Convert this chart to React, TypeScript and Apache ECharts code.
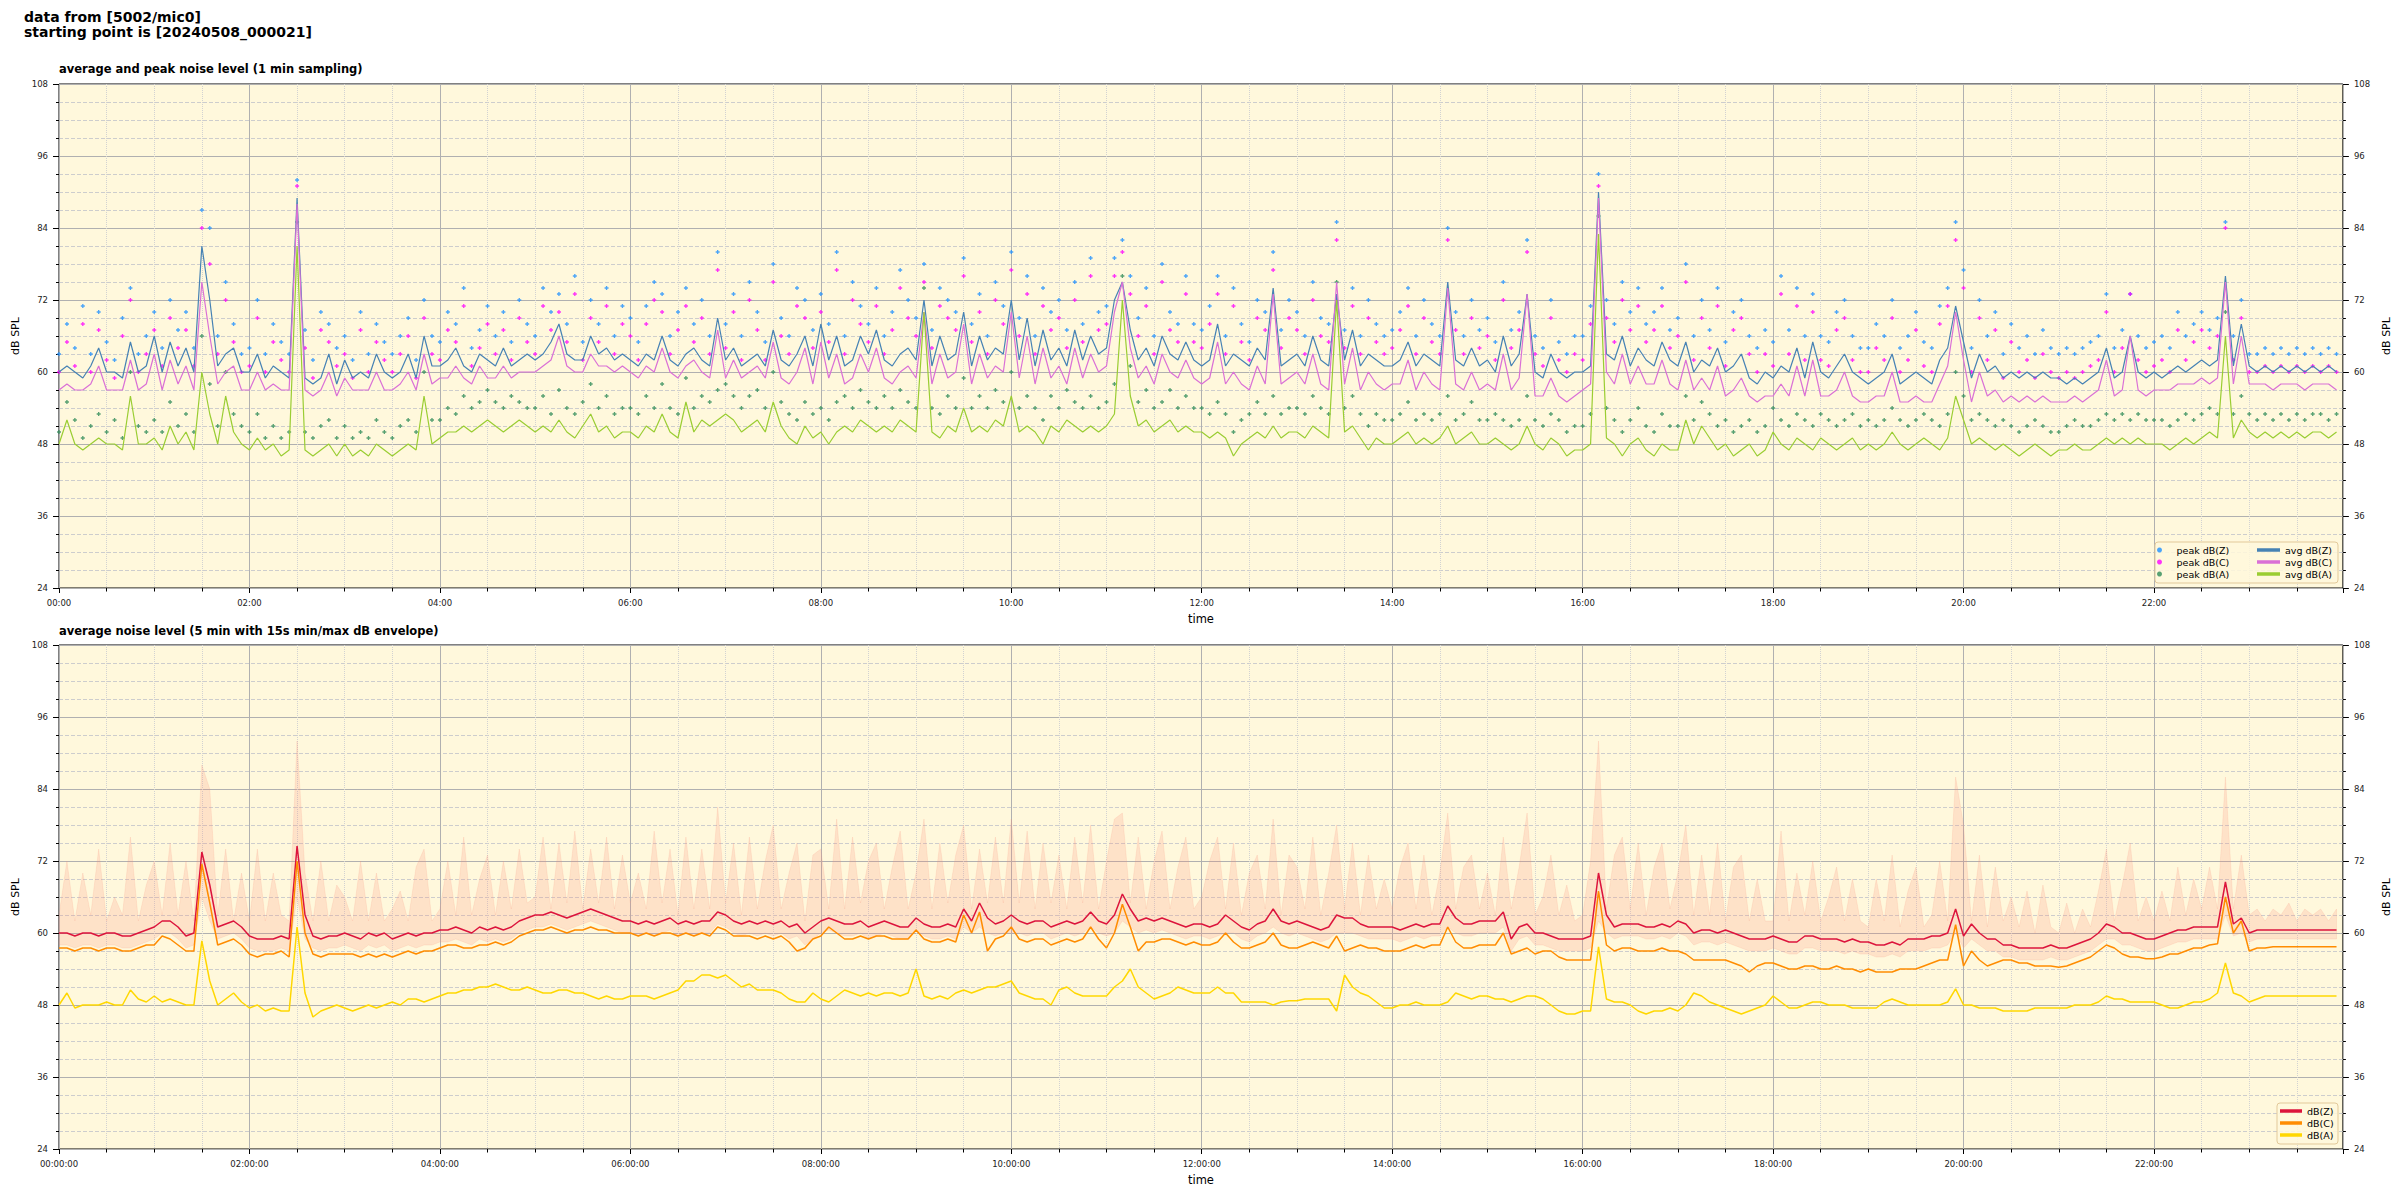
import React, { useEffect, useRef } from "react";
import * as echarts from "echarts";

// ---- time grid: one value every 5 minutes, 00:00 .. 23:55 (minutes) ----
const STEP_MIN = 5;

// ---- top panel: average levels (dB SPL) ----
const avgZ = [
  60,61,60,59,61,64,60,60,59,65,60,61,
  66,60,65,61,64,60,81,72,61,63,64,60,
  60,63,59,61,60,59,89,59,58,59,63,58,
  62,59,60,59,63,60,59,60,63,59,66,61,
  61,62,64,61,60,63,62,61,64,61,62,63,
  62,63,65,68,63,62,62,66,63,64,62,63,
  62,61,63,62,66,62,61,63,64,62,61,69,
  62,64,61,62,63,61,67,62,61,63,66,61,
  68,62,66,61,62,66,63,67,62,61,63,64,
  62,72,61,66,62,63,70,61,66,62,64,63,
  72,62,69,61,67,62,64,61,67,62,66,63,
  64,72,75,67,62,64,61,66,63,62,65,62,
  61,62,68,61,63,62,61,64,62,74,61,62,
  63,61,66,62,61,73,62,67,61,63,62,61,
  61,62,65,61,63,62,61,75,62,61,64,61,
  62,60,66,61,63,73,60,59,63,60,59,60,
  60,61,90,63,62,66,61,64,62,61,65,62,
  61,65,60,62,61,64,60,61,63,59,58,60,
  59,61,60,64,59,65,60,59,61,63,60,59,
  58,59,60,63,58,59,60,59,58,62,64,71,
  65,59,63,60,61,59,60,59,60,59,60,59,
  59,58,59,58,59,60,64,59,60,66,60,59,
  60,59,60,61,60,61,62,61,62,76,61,68,
  61,60,61,60,61,60,61,60,61,60,61,60,
];
const avgC = [
  57,58,57,57,58,61,57,57,57,62,57,58,
  63,57,62,58,61,57,75,66,58,60,61,57,
  57,60,57,58,57,57,88,57,56,57,60,56,
  59,57,57,57,60,57,57,58,60,57,63,58,
  59,59,61,59,58,61,59,59,61,59,60,60,
  60,61,62,66,61,60,60,63,61,61,60,61,
  60,59,61,60,64,60,59,61,62,60,59,67,
  59,62,59,60,61,59,65,59,58,60,64,58,
  65,59,63,58,59,63,60,64,59,58,60,61,
  59,70,58,63,59,60,68,58,63,59,61,60,
  70,59,66,58,64,59,61,58,64,59,63,60,
  61,70,75,64,59,61,58,63,60,59,62,59,
  58,59,65,58,60,58,57,61,58,73,58,59,
  60,58,63,58,57,75,58,64,57,60,58,57,
  58,58,62,57,60,58,57,74,58,57,60,57,
  58,57,63,57,59,73,56,56,59,56,55,56,
  57,58,89,60,58,63,58,61,58,58,62,58,
  57,62,57,59,57,61,56,57,59,56,55,56,
  56,58,56,61,56,62,56,56,57,60,56,55,
  55,56,56,60,55,55,56,55,55,58,61,70,
  62,55,60,56,57,55,56,55,56,55,56,55,
  55,55,56,55,56,57,62,56,57,66,57,56,
  57,57,57,58,58,58,59,58,59,75,58,66,
  58,58,58,57,58,58,58,57,58,58,58,57,
];
const avgA = [
  48,52,48,47,48,49,48,48,47,56,48,48,
  49,47,51,48,50,47,60,53,48,56,50,48,
  47,49,47,48,46,47,81,47,46,47,48,46,
  48,46,47,46,48,47,46,47,48,47,56,48,
  49,50,50,51,50,51,52,51,50,51,52,51,
  50,51,50,52,50,49,51,53,50,51,49,50,
  50,49,51,50,53,50,49,55,50,52,51,52,
  53,52,50,51,52,50,55,51,49,48,51,49,
  50,48,50,51,50,52,51,50,51,50,52,51,
  50,70,50,49,51,50,54,50,51,50,52,51,
  56,50,51,50,48,51,50,52,51,50,51,50,
  51,53,72,56,51,52,50,51,52,50,51,50,
  50,49,50,49,46,48,49,50,49,51,49,50,
  50,49,51,50,49,72,50,51,49,47,49,48,
  48,49,50,48,49,48,49,51,48,49,50,48,
  48,49,48,47,48,51,48,47,49,48,46,47,
  47,48,83,49,48,46,48,49,47,46,48,47,
  47,52,48,51,49,47,48,46,47,48,46,47,
  50,48,47,49,48,47,49,48,47,48,49,47,
  48,47,48,50,48,47,48,49,48,47,49,56,
  52,48,49,48,47,48,47,46,47,48,47,46,
  47,47,48,47,47,48,49,48,49,48,49,48,
  48,48,47,48,49,48,49,50,49,66,49,52,
  50,49,50,49,50,49,50,49,50,50,49,50,
];

// ---- top panel: peak levels (dB SPL) ----
const peakZ = [
  63,68,64,71,63,70,65,62,69,74,63,66,
  70,64,72,67,70,64,87,84,66,75,68,63,
  64,72,63,68,65,63,92,67,62,70,68,64,
  66,62,70,63,68,65,63,66,69,62,72,66,
  65,70,68,74,64,67,71,66,70,65,72,68,
  66,74,70,73,68,76,65,72,68,74,66,71,
  69,65,71,75,73,66,70,74,68,72,66,80,
  68,73,66,75,70,65,78,69,66,74,72,67,
  73,68,80,66,75,71,68,74,66,70,77,72,
  69,78,67,74,72,70,79,68,73,66,75,71,
  80,69,76,66,74,70,72,67,75,68,79,70,
  71,79,82,76,69,74,66,78,70,68,76,68,
  67,71,76,66,74,68,65,72,70,80,67,72,
  70,66,75,69,68,85,67,74,66,72,68,66,
  67,70,74,66,72,68,66,84,70,66,72,67,
  69,65,75,67,70,82,66,64,72,65,63,66,
  66,71,93,72,68,75,70,74,68,70,74,67,
  69,78,66,72,67,74,65,70,72,66,64,67,
  65,76,67,74,66,73,66,65,70,72,66,64,
  64,68,66,72,64,66,70,65,64,71,74,85,
  77,64,72,66,70,63,68,64,66,63,67,64,
  63,64,63,64,65,66,73,64,67,73,66,64,
  65,66,64,70,66,68,70,67,69,85,66,72,
  63,63,64,63,64,63,64,63,64,63,64,63,
];
const peakC = [
  60,65,61,68,60,67,62,59,66,72,60,63,
  67,61,69,64,67,61,84,78,63,72,65,60,
  61,69,60,65,62,60,91,64,59,67,65,61,
  63,59,67,60,65,62,60,63,66,59,69,63,
  62,67,65,71,61,64,68,63,67,62,69,65,
  63,71,67,70,65,73,62,69,65,71,63,68,
  66,62,68,72,70,63,67,71,65,69,63,77,
  64,70,62,72,67,62,75,66,63,71,69,64,
  70,65,77,63,72,68,65,71,63,67,74,69,
  66,75,64,71,69,67,76,65,70,63,72,68,
  77,66,73,63,71,67,69,64,72,65,76,67,
  68,76,80,73,66,71,63,75,67,65,73,65,
  64,68,73,63,71,65,62,69,67,77,64,69,
  67,63,72,66,65,82,64,71,63,69,65,63,
  64,67,71,63,69,65,63,82,67,63,69,64,
  66,62,72,64,67,80,63,61,69,62,60,63,
  62,68,91,69,65,72,67,71,65,67,71,64,
  66,75,62,69,64,71,61,67,69,63,60,63,
  61,73,63,71,62,70,62,61,67,69,62,60,
  60,64,62,69,60,62,67,61,60,68,71,82,
  74,60,69,62,67,59,65,60,62,59,63,60,
  59,60,59,60,61,62,70,60,64,73,62,60,
  61,62,60,67,62,65,67,64,66,84,62,69,
  60,60,61,60,61,60,61,60,61,60,61,60,
];
const peakA = [
  50,55,52,49,51,53,50,52,49,60,51,50,
  52,50,55,51,53,50,66,58,51,60,53,51,
  50,53,49,51,49,50,85,50,49,51,52,49,
  51,49,50,49,52,50,49,51,52,50,60,52,
  52,54,53,56,54,55,57,55,54,56,55,54,
  54,56,53,57,54,53,55,58,54,56,53,54,
  54,53,56,54,58,54,53,59,54,56,55,57,
  58,56,54,56,57,54,60,55,53,52,55,53,
  54,52,55,56,54,57,55,54,56,54,57,55,
  54,74,54,53,56,54,59,54,56,54,57,55,
  60,54,56,54,52,56,54,57,55,54,56,54,
  55,58,76,61,55,57,54,55,57,54,56,54,
  54,53,55,53,50,52,53,55,53,56,53,54,
  54,53,56,54,53,75,54,56,53,51,53,52,
  52,53,55,52,53,52,53,56,52,53,55,52,
  52,53,52,51,52,56,52,51,53,52,50,51,
  51,53,86,54,52,50,52,54,51,50,53,51,
  51,56,52,55,53,51,52,50,51,52,50,51,
  54,52,51,53,52,51,53,52,51,52,53,51,
  52,51,52,54,52,51,52,53,52,51,53,60,
  56,52,53,52,51,52,51,50,51,52,51,50,
  50,51,52,51,51,52,53,52,53,52,53,52,
  52,52,51,52,53,52,53,54,53,70,53,56,
  53,52,53,52,53,52,53,52,53,53,52,53,
];

// ---- bottom panel: 5-min averages (dB SPL) ----
const dbZ = [
  60,60,59.5,60,60,59.5,60,60,59.5,59.5,60,60.5,
  61,62,62,61,59.5,60,73.5,68,61,61.5,62,61,
  59.5,59,59,59,59.5,59,74.5,63,59.5,59,59.5,59.5,
  60,59.5,59,60,59.5,60,59,59.5,60,59.5,60,60,
  60.5,60.5,61,60.5,60,61,60.5,61,60.5,61,62,62.5,
  63,63,63.5,63,62.5,63,63.5,64,63.5,63,62.5,62,
  62,61.5,62,61.5,62,62.5,61.5,62,61.5,62,62,63.5,
  63,62,61.5,62,61.5,62,61.5,62,61,61.5,60,61,
  62,62.5,62,61.5,61.5,62,61,61.5,62,61.5,61,61,
  62.5,61.5,61,61,61.5,61,64,62,65,62.5,61.5,62,
  63,62,61.5,62,62,61,61.5,62,61.5,62,63.5,62,
  61.5,63,66.5,64,62,62.5,62,62.5,62,61.5,61,61.5,
  61.5,61,61.5,63,62,61,60.5,61.5,62,64,62,61.5,
  62,61.5,61,60.5,61,63,62.5,62.5,61.5,61,61,61,
  61,60.5,61,61.5,61,61.5,61.5,64.5,62.5,61.5,61.5,62,
  62,62,63.5,59,61,61.5,60,60,59.5,59,59,59,
  59,59.5,70,63,61,61.5,61.5,61.5,61,61,61.5,61,
  62,61.5,60,60.5,60.5,60,60.5,60,59.5,59,59,59,
  59.5,59,58.5,58.5,59.5,59.5,59,59,59,58.5,59,58.5,
  58.5,58,58,58.5,58,59,59,59,59.5,59.5,60,64,
  59.5,61.5,60,59,59,58,58,57.5,57.5,57.5,57.5,58,
  57.5,57.5,58,58.5,59,60,61.5,61,60,60,59.5,59,
  59,59.5,60,60.5,60.5,61,61,61,61,68.5,61.5,62.5,
  60,60.5,60.5,60.5,60.5,60.5,60.5,60.5,60.5,60.5,60.5,60.5,
];
const dbC = [
  57.5,57.5,57,57.5,57.5,57,57.5,57.5,57,57,57.5,58,
  58,59.5,59,58,57,57,71.5,65,58,58.5,59,58,
  56.5,56,56.5,56.5,57,56,72,60,56.5,56,56.5,56.5,
  56.5,56.5,56,56.5,56,56.5,56,56.5,57,56.5,57,57,
  57.5,58,58,57.5,57.5,58,58,58.5,58,58.5,59.5,60,
  60.5,60.5,61,60.5,60,60.5,60.5,61,60.5,60.5,60,60,
  60,59.5,60,59.5,60,60,59.5,60,59.5,60,59.5,61,
  60.5,59.5,59.5,59.5,59,59.5,59,59.5,58.5,57,57.5,59,
  59.5,61,60,59,59,59.5,59,59.5,59.5,59,59,59,
  60.5,59,58.5,58.5,59,58.5,63,60,63.5,57,59,59.5,
  61,59,58.5,59,59,58,58.5,59,58.5,59,61,59,
  57.5,60,64.8,61,57,58.5,58.5,59,59,58.5,58,58.5,
  58,58,58.5,60,58.5,57.5,57.5,58,58.5,60,58,57.5,
  57.5,58,58.5,58,57.5,59.5,57,57.5,58,57.5,57.5,57,
  57,57,57.5,58,57.5,58,58,61,58.5,57.5,57.5,58,
  58,58,60,56.5,57,57.5,56.5,57,57,56,55.5,55.5,
  55.5,55.5,67,58,57,57.5,57.5,57,57,57,57.5,57,
  57,56.5,55.5,55.5,55.5,55.5,55.5,55,54.5,53.5,54.5,55,
  55,54.5,54,54,54.5,54.5,54,54,54.5,54,54,53.5,
  54,53.5,53.5,53.5,54,54,54,54.5,55,55.5,55.5,61.4,
  54.5,57,55.5,54.5,55,55.5,55.5,55,55,54.5,54.5,54.5,
  54.3,54.5,55,55.5,56,57,58,57.5,56.5,56,56,55.7,
  55.7,56,56.5,56.5,57,57.5,57.5,58,58.2,66,60,62,
  57,57.5,57.5,57.7,57.7,57.7,57.7,57.7,57.7,57.7,57.7,57.7,
];
const dbA = [
  48,50,47.5,48,48,48,48.5,48,48,50.5,49,48.5,
  49.5,48.5,49,48.5,48,48,58.7,52,48,49,50,48.5,
  47.5,48,47,47.5,47,47,61,50,46,47,47.5,48,
  47.5,47,47.5,48,47.5,48,48.5,48,49,49,48.5,49,
  49.5,50,50,50.5,50.5,51,51,51.5,51,50.5,50.5,51,
  50.5,50,50,50.5,50.5,50,50,49.5,49,49.5,49,49,
  49.5,49.5,49.5,49,49.5,50,50.5,52,52,53,53,52.5,
  53,52,51,51.5,50.5,50.5,50.5,50,49,48.5,48.5,50,
  49,48.5,49.5,50.5,50,49.5,50,49.5,50,50,49.5,50,
  54,49.5,49,49.5,49,50,50.5,50,50.5,51,51,51.5,
  52,50,49.5,49,49,48,50.5,51,50,49.5,49.5,49.5,
  49.5,51,52,54,51,50,49,49.5,50,51,50.5,50,
  50,50,51,50,50,48.5,48.5,48.5,48.5,48,48.5,48.7,
  48.7,49,49,49,49,47,53,51,50,49.5,48.5,47.5,
  47.5,48,48,48.5,48,48,48,48.5,50,49.5,49,49.5,
  49.5,49,49,48.5,49,49.5,49.5,49,48,47,46.5,46.5,
  47,47,57.7,49,48.5,48.5,48,47,46.5,47,47,47.5,
  47,48,50,49.5,48.5,48,47.5,47,46.5,47,47.5,48,
  49.5,48.5,47.5,47.5,48,48.5,48.5,48,48,48,47.5,47.5,
  47.5,47.5,48.5,49,48.5,48,48,48,48,48,48.5,50.7,
  48,48,47.5,47.5,47.5,47,47,47,47,47.5,47.5,47.5,
  47.5,47.5,48,48,48,48.5,49.5,49,49,48.5,48.5,48.5,
  48.5,48,47.5,47.5,48,48.5,48.5,49,50,55,50,49.5,
  48.5,49,49.5,49.5,49.5,49.5,49.5,49.5,49.5,49.5,49.5,49.5,
];

// ---- bottom panel: 15 s min / max envelope (dB SPL) ----
const envMax = [
  63,72,62,70,63,74,62,66,63,76,62,68,
  72,63,75,63,72,62,88,84,63,74,62,70,
  62,74,62,70,63,62,92,70,62,72,62,68,
  66,62,72,62,70,62,64,67,62,71,74,62,
  64,72,63,76,63,69,73,63,72,64,74,65,
  66,76,64,75,65,77,64,74,65,76,64,73,
  65,70,64,77,65,74,63,76,64,74,64,81,
  65,75,63,76,64,72,78,64,70,75,62,73,
  74,64,79,64,76,65,72,75,64,71,77,64,
  70,79,64,75,65,73,78,64,74,65,76,65,
  79,65,77,64,75,65,73,64,76,65,78,64,
  72,79,80,65,76,64,72,77,64,71,76,64,
  66,72,76,64,75,63,70,73,64,79,63,73,
  71,64,76,63,70,78,64,75,63,73,64,69,
  64,71,75,64,73,63,70,80,64,71,73,64,
  70,63,76,64,71,80,63,66,73,63,68,62,
  63,72,92,64,73,76,64,75,63,71,75,64,
  70,78,63,73,63,75,62,71,73,62,69,62,
  62,77,62,70,63,72,62,66,71,62,69,62,
  61,69,62,73,61,67,71,61,63,72,62,86,
  78,62,73,61,71,62,66,61,67,60,68,61,
  60,65,60,64,61,67,74,62,68,75,62,66,
  62,67,62,71,63,69,64,71,64,86,64,73,
  63,64,62,64,63,65,62,64,63,64,62,64,
];
const envMin = [
  58,58,57.5,58,58,57.5,58,58,57.5,57.5,58,58.5,
  59,60,60,59,57.5,58,66,62,59,59.5,60,59,
  57.5,57,57,57,57.5,57,66,59,57.5,57,57.5,57.5,
  58,57.5,57,58,57.5,58,57,57.5,58,57.5,58,58,
  58.5,58.5,59,58.5,58,59,58.5,59,58.5,59,60,60.5,
  61,61,61.5,61,60.5,61,61.5,62,61.5,61,60.5,60,
  60,59.5,60,59.5,60,60.5,59.5,60,59.5,60,60,61.5,
  61,60,59.5,60,59.5,60,59.5,60,59,59.5,58,59,
  60,60.5,60,59.5,59.5,60,59,59.5,60,59.5,59,59,
  60.5,59.5,59,59,59.5,59,61,60,61,60,59.5,60,
  60,60,59.5,60,60,59,59.5,60,59.5,60,61,60,
  59.5,60,62,61,60,60.5,60,60.5,60,59.5,59,59.5,
  59.5,59,59.5,60,60,59,58.5,59.5,60,61,60,59.5,
  60,59.5,59,58.5,59,60,60,60,59.5,59,59,59,
  59,58.5,59,59.5,59,59.5,59.5,61,60,59.5,59.5,60,
  60,60,61,57,59,59.5,58,58,57.5,57,57,57,
  57,57.5,62,60,59,59.5,59.5,59.5,59,59,59.5,59,
  60,59.5,58,58.5,58.5,58,58.5,58,57.5,57,57,57,
  57.5,57,56.5,56.5,57.5,57.5,57,57,57,56.5,57,56.5,
  56.5,56,56,56.5,56,57,57,57,57.5,57.5,58,60,
  57.5,59,58,57,57,56,56,55.5,55.5,55.5,55.5,56,
  55.5,55.5,56,56.5,57,58,59,59,58,58,57.5,57,
  57,57.5,58,58.5,58.5,59,59,59,59,63,59.5,60,
  58.5,59,59,59,59,59,59,59,59,59,59,59,
];

// ---- axes ----
const X_MAX_MIN = 1439;
const Y_MIN = 24;
const Y_MAX = 108;
const Y_STEP = 12;
const X_STEP = 120;

const FONT = "DejaVu Sans";
const PLUS = "path://M1,0h1v1h1v1h-1v1h-1v-1h-1v-1h1z";

const pad2 = (n: number) => (n < 10 ? "0" + n : "" + n);

function pairs(vals: number[]) {
  return vals.map((v, i) => [i * STEP_MIN, v]);
}

function xAxisFor(gridIndex: number, withSeconds: boolean) {
  return {
    type: "value",
    gridIndex,
    min: 0,
    max: X_MAX_MIN,
    interval: X_STEP,
    axisLine: { show: false },
    axisTick: { show: true, length: 5, lineStyle: { color: "#000" } },
    minorTick: { show: true, splitNumber: 4, length: 3.5, lineStyle: { color: "#000" } },
    axisLabel: {
      fontFamily: FONT,
      fontSize: 8.5,
      color: "#222",
      margin: 10,
      formatter: (v: number) => {
        if (v % X_STEP !== 0) return "";
        const h = Math.floor(v / 60);
        const m = v % 60;
        return withSeconds ? `${pad2(h)}:${pad2(m)}:00` : `${pad2(h)}:${pad2(m)}`;
      },
    },
    splitLine: { show: true, lineStyle: { color: "#b0b0b0", width: 1 } },
    minorSplitLine: { show: true, lineStyle: { color: "#d2d2d2", width: 1, type: "dotted" } },
    name: "time",
    nameLocation: "middle",
    nameGap: 25,
    nameTextStyle: { fontFamily: FONT, fontSize: 11.5, color: "#000" },
  };
}

function yAxisFor(gridIndex: number, position: "left" | "right") {
  const left = position === "left";
  return {
    type: "value",
    gridIndex,
    position,
    min: Y_MIN,
    max: Y_MAX,
    interval: Y_STEP,
    axisLine: { show: false },
    axisTick: { show: true, length: 6, lineStyle: { color: "#000" } },
    minorTick: { show: true, splitNumber: 4, length: 3, lineStyle: { color: "#000" } },
    axisLabel: { fontFamily: FONT, fontSize: 8.5, color: "#222", margin: 11 },
    splitLine: { show: left, lineStyle: { color: "#b0b0b0", width: 1 } },
    minorSplitLine: { show: left, lineStyle: { color: "#cdcdcd", width: 1, type: "dashed" } },
    name: "dB SPL",
    nameLocation: "middle",
    nameGap: left ? 36 : 34,
    nameTextStyle: { fontFamily: FONT, fontSize: 11, color: "#000" },
  };
}

function lineSeries(name: string, vals: number[], color: string, xi: number, yi: number, width: number) {
  return {
    type: "line",
    name,
    xAxisIndex: xi,
    yAxisIndex: yi,
    data: pairs(vals),
    symbol: "none",
    showSymbol: false,
    lineStyle: { color, width },
    itemStyle: { color },
    z: 3,
  };
}

function scatterSeries(name: string, vals: number[], color: string) {
  return {
    type: "scatter",
    name,
    xAxisIndex: 0,
    yAxisIndex: 0,
    data: pairs(vals),
    symbol: PLUS,
    symbolSize: 4,
    itemStyle: { color },
    z: 2,
  };
}

// envelope polygon: upper edge along envMax, back along envMin
function envelopeSeries() {
  const rows = envMax.map((v, i) => [i * STEP_MIN, v, envMin[i]]);
  return {
    type: "custom",
    name: "envelope",
    xAxisIndex: 1,
    yAxisIndex: 2,
    data: rows,
    encode: { x: 0, y: [1, 2] },
    silent: true,
    z: 1,
    renderItem: (params: any, api: any) => {
      if (params.dataIndex !== 0) return null;
      const upper = rows.map((r) => api.coord([r[0], r[1]]));
      const lower = rows.map((r) => api.coord([r[0], r[2]])).reverse();
      return {
        type: "polygon",
        shape: { points: upper.concat(lower) },
        style: { fill: "rgba(250,140,120,0.2)", stroke: "rgba(250,140,120,0.25)", lineWidth: 0.6 },
      };
    },
  };
}

function buildOption() {
  const legendText = { fontFamily: FONT, fontSize: 9.5, color: "#000" };
  return {
    animation: false,
    textStyle: { fontFamily: FONT },
    title: [
      {
        text: "data from [5002/mic0]\nstarting point is [20240508_000021]",
        left: 24,
        top: 9,
        padding: 0,
        textStyle: { fontFamily: FONT, fontSize: 14, fontWeight: "bold", lineHeight: 15, color: "#000" },
      },
      {
        text: "average and peak noise level (1 min sampling)",
        left: 59,
        top: 63,
        padding: 0,
        textStyle: { fontFamily: FONT, fontSize: 11.5, fontWeight: "bold", color: "#000" },
      },
      {
        text: "average noise level (5 min with 15s min/max dB envelope)",
        left: 59,
        top: 625,
        padding: 0,
        textStyle: { fontFamily: FONT, fontSize: 11.5, fontWeight: "bold", color: "#000" },
      },
    ],
    grid: [
      { left: 59, top: 84, width: 2284, height: 504, show: true, backgroundColor: "#fff8dc", borderColor: "#000", borderWidth: 1 },
      { left: 59, top: 645, width: 2284, height: 504, show: true, backgroundColor: "#fff8dc", borderColor: "#000", borderWidth: 1 },
    ],
    xAxis: [xAxisFor(0, false), xAxisFor(1, true)],
    yAxis: [yAxisFor(0, "left"), yAxisFor(0, "right"), yAxisFor(1, "left"), yAxisFor(1, "right")],
    legend: [
      {
        data: [
          { name: "peak dB(Z)", icon: "circle" },
          { name: "peak dB(C)", icon: "circle" },
          { name: "peak dB(A)", icon: "circle" },
        ],
        orient: "vertical",
        left: 2157,
        top: 545,
        padding: 0,
        itemWidth: 24,
        itemHeight: 5,
        itemGap: 2,
        selectedMode: false,
        textStyle: legendText,
        z: 5,
      },
      {
        data: ["avg dB(Z)", "avg dB(C)", "avg dB(A)"],
        icon: "rect",
        orient: "vertical",
        left: 2257,
        top: 545,
        padding: 0,
        itemWidth: 23,
        itemHeight: 3.5,
        itemGap: 2,
        selectedMode: false,
        textStyle: legendText,
        z: 5,
      },
      {
        data: ["dB(Z)", "dB(C)", "dB(A)"],
        icon: "rect",
        orient: "vertical",
        left: 2280,
        top: 1106,
        padding: 0,
        itemWidth: 22,
        itemHeight: 3.5,
        itemGap: 2,
        selectedMode: false,
        textStyle: legendText,
        z: 5,
      },
    ],
    graphic: [
      {
        type: "rect",
        z: 4,
        shape: { x: 2155, y: 542, width: 183, height: 41, r: 3 },
        style: { fill: "rgba(255,248,220,0.85)", stroke: "#e2c99a", lineWidth: 1 },
      },
      {
        type: "rect",
        z: 4,
        shape: { x: 2277, y: 1103, width: 61, height: 41, r: 3 },
        style: { fill: "rgba(255,248,220,0.85)", stroke: "#e2c99a", lineWidth: 1 },
      },
    ],
    series: [
      scatterSeries("peak dB(Z)", peakZ, "#1e90ff"),
      scatterSeries("peak dB(C)", peakC, "#ff00ff"),
      scatterSeries("peak dB(A)", peakA, "#2e8b57"),
      lineSeries("avg dB(Z)", avgZ, "#4682b4", 0, 0, 1.2),
      lineSeries("avg dB(C)", avgC, "#da70d6", 0, 0, 1.2),
      lineSeries("avg dB(A)", avgA, "#9acd32", 0, 0, 1.2),
      envelopeSeries(),
      lineSeries("dB(Z)", dbZ, "#dc143c", 1, 2, 1.5),
      lineSeries("dB(C)", dbC, "#ff8c00", 1, 2, 1.5),
      lineSeries("dB(A)", dbA, "#ffd700", 1, 2, 1.5),
    ],
  };
}

export default function App() {
  const ref = useRef<HTMLDivElement>(null);
  useEffect(() => {
    if (!ref.current) return;
    const chart = echarts.init(ref.current, undefined, { renderer: "svg" });
    chart.setOption(buildOption() as any);
    return () => chart.dispose();
  }, []);
  return (
    <div
      ref={ref}
      style={{ position: "fixed", left: 0, top: 0, width: "2400px", height: "1200px", background: "#fff" }}
    />
  );
}
